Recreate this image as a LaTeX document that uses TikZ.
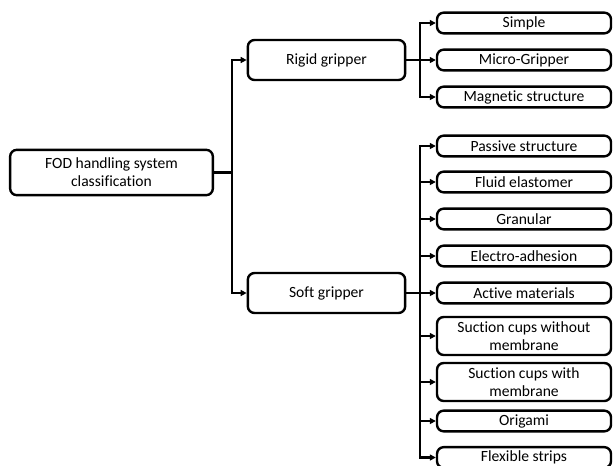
\documentclass[tikz,border=0pt]{standalone}
\usepackage{fontspec}
\setmainfont[Ligatures=NoCommon]{Carlito}
\usepackage{tikz}
\usetikzlibrary{positioning,calc,arrows.meta}

\tikzset{
  box/.style={draw, line width=1.8pt, rounded corners=5pt, fill=white,
              align=center, inner sep=0pt, font=\fontsize{11.7}{13.5}\selectfont},
  rootbox/.style={box, minimum width=152pt, minimum height=34pt},
  midbox/.style={box, minimum width=118pt, minimum height=30pt},
  leafbox/.style={box, minimum width=130.5pt, minimum height=15.5pt},
  tallbox/.style={box, minimum width=130.5pt, minimum height=28.5pt},
  link/.style={line width=1.6pt},
  linkarrow/.style={line width=1.6pt, -{Triangle[length=4.5pt,width=4.5pt]}}
}

\begin{document}
\begin{tikzpicture}[x=0.75pt, y=-0.75pt]

  \useasboundingbox (0,0) rectangle (613,465);

  % main boxes
  \node[rootbox] (root)  at (111.5,172.5) {FOD handling system\\classification};
  \node[midbox]  (rigid) at (326.5,60) {Rigid gripper};
  \node[midbox]  (soft)  at (326.5,293) {Soft gripper};

  % rigid branch
  \node[leafbox] (simple)   at (524,23)  {Simple};
  \node[leafbox] (micro)    at (524,60)  {Micro-Gripper};
  \node[leafbox] (magnetic) at (524,97)  {Magnetic structure};

  % soft branch
  \node[leafbox] (passive)  at (524,146) {Passive structure};
  \node[leafbox] (fluid)    at (524,182) {Fluid elastomer};
  \node[leafbox] (granular) at (524,219) {Granular};
  \node[leafbox] (electro)  at (524,256) {Electro-adhesion};
  \node[leafbox] (active)   at (524,293) {Active materials};
  \node[tallbox] (cupsno)   at (524,336) {Suction cups without\\membrane};
  \node[tallbox] (cupsmem)  at (524,382) {Suction cups with\\membrane};
  \node[leafbox] (origami)  at (524,421) {Origami};
  \node[leafbox] (strips)   at (524,457.5) {Flexible strips};

  \coordinate (trunk) at (232,172.5);
  \coordinate (rbus)  at (420,60);
  \coordinate (sbus)  at (420,293);

  % connectors
  \draw[link] (root.east) -- (trunk);
  \draw[linkarrow] (trunk) |- (rigid.west);
  \draw[linkarrow] (trunk) |- (soft.west);

  \draw[link] (rigid.east) -- (rbus);
  \foreach \n in {simple,micro,magnetic}
    \draw[linkarrow] (rbus) |- (\n.west);

  \draw[link] (soft.east) -- (sbus);
  \foreach \n in {passive,fluid,granular,electro,active,cupsno,cupsmem,origami,strips}
    \draw[linkarrow] (sbus) |- (\n.west);

\end{tikzpicture}
\end{document}
